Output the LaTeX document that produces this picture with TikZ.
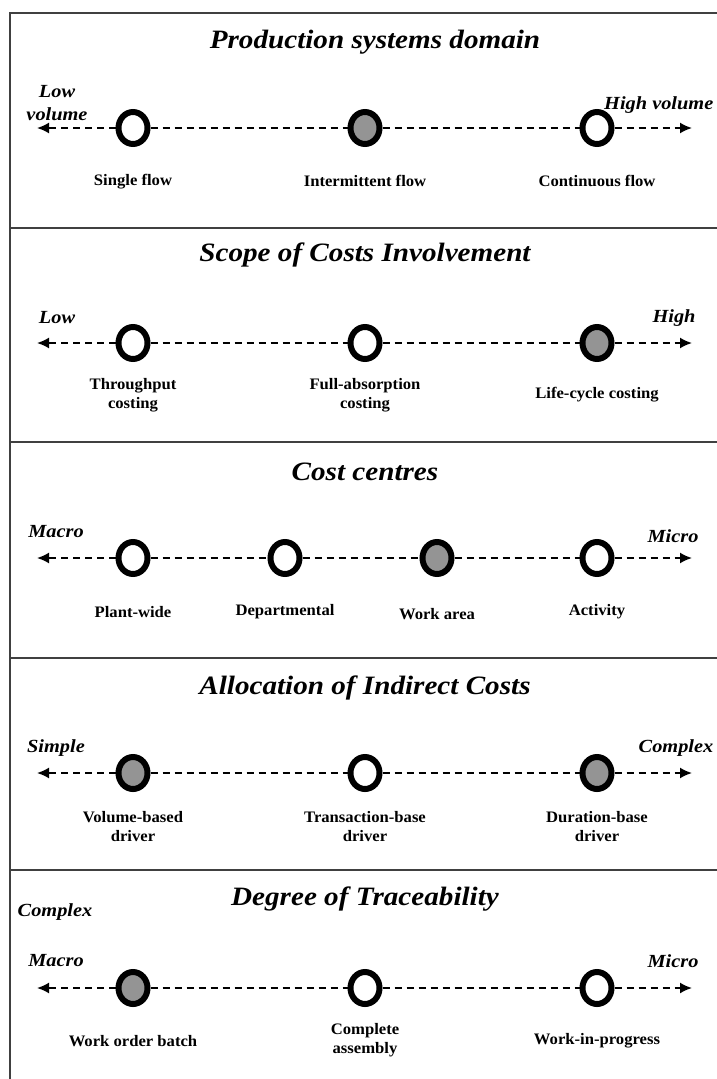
\documentclass[tikz,border=0pt]{standalone}
\usepackage{fontspec}
\setmainfont{Liberation Serif}
\newfontfamily\headfont[FakeStretch=1.1]{Liberation Serif}
\newfontfamily\polefont[FakeStretch=1.1]{Liberation Serif}
\newfontfamily\stagefont[FakeStretch=1.04]{Liberation Serif}
\usetikzlibrary{arrows.meta,shapes.geometric}
\begin{document}
\begin{tikzpicture}[x=1pt,y=-1pt,
  frame/.style={line width=1.6pt,draw=black!75},
  title/.style={font=\headfont\fontsize{26.5}{30}\selectfont\bfseries\itshape,anchor=center},
  endlabel/.style={font=\polefont\fontsize{18.5}{21}\selectfont\bfseries\itshape,align=center,inner sep=0pt},
  nodelabel/.style={font=\stagefont\fontsize{16}{19}\selectfont\bfseries,align=center,inner sep=0pt},
  stage/.style={ellipse,draw=black,line width=6pt,fill=white,minimum width=29pt,minimum height=32pt,inner sep=0pt},
  chosen/.style={stage,fill=black!42},
  axis/.style={dashed,dash pattern=on 7pt off 5pt,line width=1.8pt},
  tip/.style={-{Latex[length=12pt,width=11pt]}},
]
\useasboundingbox (0,0) rectangle (717,1079);
\fill[white] (0,0) rectangle (717,1079);

% panel frame
\draw[frame] (10,1079) -- (10,13) -- (717,13);
\foreach \yy in {228,442,658,870} \draw[frame] (10,\yy) -- (717,\yy);

% ---------- Production systems domain ----------
\node[title] (t1) at (375,42) {Production systems domain};
\coordinate (l1) at (37,128);
\coordinate (r1) at (692,128);
\node[stage]  (a1) at (133,128) {};
\node[chosen] (a2) at (365,128) {};
\node[stage]  (a3) at (597,128) {};
\draw[axis,tip] (a1) -- (l1);
\draw[axis] (a1) -- (a2);
\draw[axis] (a2) -- (a3);
\draw[axis,tip] (a3) -- (r1);
\node[endlabel] (lo1) at (57,103) {Low\\[2pt]volume};
\node[endlabel,anchor=west] (hi1) at (604,105) {High volume};
\node[nodelabel] (n11) at (133,182) {Single flow};
\node[nodelabel] (n12) at (365,181) {Intermittent flow};
\node[nodelabel] (n13) at (597,181) {Continuous flow};

% ---------- Scope of Costs Involvement ----------
\node[title] (t2) at (365,255) {Scope of Costs Involvement};
\coordinate (l2) at (37,343);
\coordinate (r2) at (692,343);
\node[stage]  (b1) at (133,343) {};
\node[stage]  (b2) at (365,343) {};
\node[chosen] (b3) at (597,343) {};
\draw[axis,tip] (b1) -- (l2);
\draw[axis] (b1) -- (b2);
\draw[axis] (b2) -- (b3);
\draw[axis,tip] (b3) -- (r2);
\node[endlabel] (lo2) at (57,318) {Low};
\node[endlabel] (hi2) at (674,318) {High};
\node[nodelabel] (n21) at (133,395) {Throughput\\costing};
\node[nodelabel] (n22) at (365,395) {Full-absorption\\costing};
\node[nodelabel] (n23) at (597,395) {Life-cycle costing};

% ---------- Cost centres ----------
\node[title] (t3) at (365,472) {Cost centres};
\coordinate (l3) at (37,558);
\coordinate (r3) at (692,558);
\node[stage]  (c1) at (133,558) {};
\node[stage]  (c2) at (285,558) {};
\node[chosen] (c3) at (437,558) {};
\node[stage]  (c4) at (597,558) {};
\draw[axis,tip] (c1) -- (l3);
\draw[axis] (c1) -- (c2);
\draw[axis] (c2) -- (c3);
\draw[axis] (c3) -- (c4);
\draw[axis,tip] (c4) -- (r3);
\node[endlabel] (lo3) at (56,532) {Macro};
\node[endlabel] (hi3) at (673,536) {Micro};
\node[nodelabel] (n31) at (133,612) {Plant-wide};
\node[nodelabel] (n32) at (285,612) {Departmental};
\node[nodelabel] (n33) at (437,614) {Work area};
\node[nodelabel] (n34) at (597,612) {Activity};

% ---------- Allocation of Indirect Costs ----------
\node[title] (t4) at (365,688) {Allocation of Indirect Costs};
\coordinate (l4) at (37,773);
\coordinate (r4) at (692,773);
\node[chosen] (d1) at (133,773) {};
\node[stage]  (d2) at (365,773) {};
\node[chosen] (d3) at (597,773) {};
\draw[axis,tip] (d1) -- (l4);
\draw[axis] (d1) -- (d2);
\draw[axis] (d2) -- (d3);
\draw[axis,tip] (d3) -- (r4);
\node[endlabel] (lo4) at (56,748) {Simple};
\node[endlabel] (hi4) at (676,748) {Complex};
\node[nodelabel] (n41) at (133,827) {Volume-based\\driver};
\node[nodelabel] (n42) at (365,827) {Transaction-base\\driver};
\node[nodelabel] (n43) at (597,827) {Duration-base\\driver};

% ---------- Degree of Traceability ----------
\node[title] (t5) at (365,899) {Degree of Traceability};
\node[endlabel] (cx5) at (55,912) {Complex};
\coordinate (l5) at (37,988);
\coordinate (r5) at (692,988);
\node[chosen] (e1) at (133,988) {};
\node[stage]  (e2) at (365,988) {};
\node[stage]  (e3) at (597,988) {};
\draw[axis,tip] (e1) -- (l5);
\draw[axis] (e1) -- (e2);
\draw[axis] (e2) -- (e3);
\draw[axis,tip] (e3) -- (r5);
\node[endlabel] (lo5) at (56,961) {Macro};
\node[endlabel] (hi5) at (673,961) {Micro};
\node[nodelabel] (n51) at (133,1041) {Work order batch};
\node[nodelabel] (n52) at (365,1040) {Complete\\assembly};
\node[nodelabel] (n53) at (597,1041) {Work-in-progress};
\end{tikzpicture}
\end{document}
